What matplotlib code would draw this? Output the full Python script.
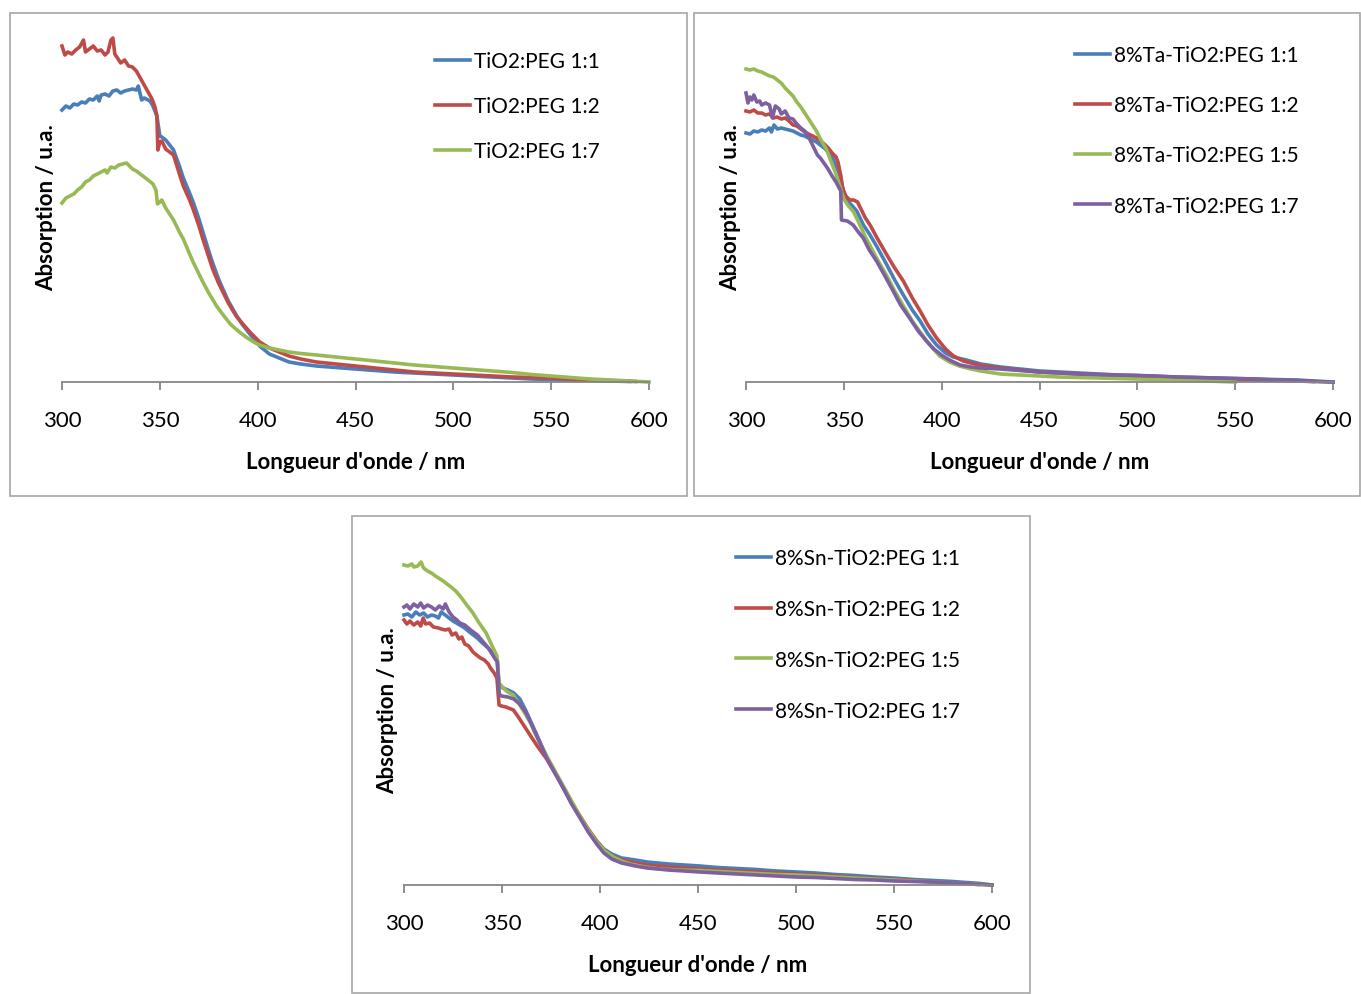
import matplotlib
matplotlib.use("Agg")
import matplotlib.pyplot as plt
from matplotlib.patches import Rectangle

plt.rcParams["font.family"] = ["Lato", "DejaVu Sans"]

blue = "#4A7EBB"
red = "#BE4B48"
green = "#98B954"
purple = "#7D60A0"

ticks = [300, 350, 400, 450, 500, 550, 600]

# ---- panel 1 : TiO2:PEG ----
p1_labels = ["TiO2:PEG 1:1", "TiO2:PEG 1:2", "TiO2:PEG 1:7"]

p1_blue_x = [300, 302, 304, 306, 308, 310, 312, 314, 316, 318, 319, 320, 322, 324, 326, 328, 330, 332, 334, 336,
             338, 339, 340.7, 342, 345, 346.5, 348.5, 350, 351, 353, 355, 357, 360, 362, 365, 367, 370, 372, 375,
             377, 380, 382, 385, 389, 392, 396, 401, 406, 411, 416, 422, 430, 440, 450, 460, 470, 480, 490, 500,
             510, 520, 530, 540, 550, 560, 570, 580, 590]
p1_blue_y = [2.72, 2.76, 2.74, 2.78, 2.77, 2.80, 2.79, 2.83, 2.82, 2.86, 2.81, 2.87, 2.88, 2.86, 2.91, 2.92, 2.89,
             2.91, 2.92, 2.93, 2.92, 2.96, 2.82, 2.84, 2.81, 2.76, 2.66, 2.46, 2.45, 2.42, 2.37, 2.32, 2.16, 2.04,
             1.90, 1.80, 1.63, 1.50, 1.31, 1.19, 1.03, 0.94, 0.81, 0.67, 0.58, 0.48, 0.36, 0.28, 0.24, 0.20, 0.18,
             0.16, 0.145, 0.13, 0.115, 0.10, 0.09, 0.08, 0.07, 0.06, 0.05, 0.04, 0.03, 0.025, 0.02, 0.015, 0.01, 0.005]

p1_red_x = [300, 301.5, 303, 305, 307, 309, 311, 312, 314, 316, 318, 320, 322, 323.5, 325, 326, 327, 328, 330, 332,
            334, 336, 338, 340, 342, 344, 346, 347.5, 348.5, 349, 350, 351, 353, 355, 357, 360, 362, 365, 367, 370,
            372, 375, 377, 380, 382, 385, 389, 392, 396, 401, 406, 411, 416, 422, 430, 440, 450, 460, 470, 480,
            490, 500, 510, 520, 530, 540, 550, 560, 570, 580, 593]
p1_red_y = [3.36, 3.27, 3.30, 3.28, 3.32, 3.35, 3.42, 3.30, 3.33, 3.36, 3.31, 3.32, 3.27, 3.30, 3.42, 3.44, 3.28,
            3.25, 3.19, 3.22, 3.16, 3.15, 3.11, 3.04, 2.97, 2.90, 2.83, 2.75, 2.66, 2.32, 2.40, 2.41, 2.33, 2.30,
            2.27, 2.08, 1.96, 1.83, 1.73, 1.56, 1.43, 1.25, 1.13, 0.99, 0.91, 0.79, 0.66, 0.59, 0.50, 0.40, 0.34,
            0.30, 0.26, 0.23, 0.20, 0.18, 0.16, 0.14, 0.12, 0.10, 0.09, 0.08, 0.07, 0.06, 0.05, 0.045, 0.04, 0.03,
            0.02, 0.015, 0.005]

p1_green_x = [300, 302, 304, 306, 308, 310, 312, 314, 316, 318, 320, 322, 323, 325, 327, 329, 331, 333, 334.5, 336,
              338, 340, 342, 344, 346.5, 348, 348.8, 350, 351, 353, 355, 357, 360, 362, 365, 367, 370, 372, 375,
              379, 382, 386, 390, 394, 398, 401, 406, 411, 416, 422, 430, 440, 450, 460, 470, 480, 490, 500, 510,
              520, 530, 540, 550, 560, 570, 580, 590, 600]
p1_green_y = [1.79, 1.84, 1.86, 1.88, 1.92, 1.95, 2.00, 2.02, 2.06, 2.08, 2.10, 2.12, 2.09, 2.15, 2.14, 2.17, 2.18,
              2.19, 2.16, 2.13, 2.11, 2.08, 2.05, 2.02, 1.98, 1.92, 1.78, 1.80, 1.82, 1.74, 1.68, 1.62, 1.50, 1.43,
              1.29, 1.20, 1.08, 1.00, 0.89, 0.76, 0.68, 0.58, 0.51, 0.45, 0.40, 0.37, 0.34, 0.32, 0.30, 0.285, 0.27,
              0.25, 0.23, 0.21, 0.19, 0.17, 0.155, 0.14, 0.125, 0.11, 0.095, 0.075, 0.06, 0.045, 0.03, 0.02, 0.01, 0.0]

# ---- panel 2 : 8%Ta-TiO2:PEG ----
p2_labels = ["8%Ta-TiO2:PEG 1:1", "8%Ta-TiO2:PEG 1:2", "8%Ta-TiO2:PEG 1:5", "8%Ta-TiO2:PEG 1:7"]

p2_blue_x = [300, 302, 304, 306, 308, 310, 312, 313, 314.3, 316, 318, 320, 322, 324, 326, 328, 330, 332, 334, 336,
             338, 340, 342, 344, 346, 348.4, 350.5, 353, 356.6, 360, 363.4, 367, 372, 376, 380.4, 385, 389, 393,
             397.4, 402, 406, 412.6, 420, 430, 440, 450, 460, 470, 480, 490, 500, 510, 520, 530, 540, 550, 560, 570,
             582, 590, 600]
p2_blue_y = [2.49, 2.48, 2.51, 2.50, 2.52, 2.51, 2.54, 2.50, 2.57, 2.53, 2.54, 2.53, 2.52, 2.51, 2.49, 2.47, 2.46,
             2.44, 2.42, 2.40, 2.37, 2.34, 2.30, 2.25, 2.16, 2.04, 1.85, 1.79, 1.71, 1.57, 1.47, 1.35, 1.17, 1.02,
             0.87, 0.72, 0.61, 0.48, 0.37, 0.29, 0.25, 0.22, 0.18, 0.15, 0.13, 0.11, 0.10, 0.09, 0.08, 0.07, 0.065,
             0.055, 0.05, 0.045, 0.04, 0.035, 0.03, 0.025, 0.02, 0.01, 0.0]

p2_red_x = [300, 302, 304, 306, 308, 310, 312, 314, 316, 318, 320, 322, 324, 326, 328, 330, 332, 334, 336, 338, 340,
            342, 344, 346, 347, 348.5, 349.3, 351, 353, 355, 357, 359, 361, 363.4, 367, 372, 376, 380.4, 385, 389,
            393, 397.4, 402, 406, 411, 417, 422, 430, 440, 450, 460, 470, 480, 490, 500, 510, 520, 530, 540, 550,
            560, 570, 580, 590]
p2_red_y = [2.71, 2.70, 2.72, 2.69, 2.69, 2.67, 2.68, 2.64, 2.65, 2.63, 2.64, 2.61, 2.57, 2.56, 2.53, 2.50, 2.48,
            2.46, 2.44, 2.41, 2.38, 2.34, 2.29, 2.25, 2.20, 2.06, 1.94, 1.86, 1.82, 1.82, 1.80, 1.72, 1.64, 1.57,
            1.44, 1.27, 1.14, 1.01, 0.84, 0.71, 0.57, 0.44, 0.33, 0.26, 0.21, 0.18, 0.16, 0.14, 0.12, 0.10, 0.09,
            0.08, 0.07, 0.06, 0.055, 0.045, 0.04, 0.035, 0.03, 0.025, 0.02, 0.015, 0.01, 0.005]

p2_green_x = [300, 302, 304, 306, 308, 310, 312, 314, 316, 318, 320, 322, 324, 326, 328, 330, 333, 336, 338, 341,
              343, 346, 348.4, 350, 352, 355, 358, 361, 363.5, 367, 372, 376, 380.4, 385, 389, 394, 399, 404, 409,
              415, 420, 430, 440, 450, 460, 470, 480, 490, 500, 510, 520, 535, 550]
p2_green_y = [3.13, 3.12, 3.13, 3.11, 3.10, 3.08, 3.06, 3.05, 3.02, 2.99, 2.94, 2.90, 2.86, 2.80, 2.75, 2.69, 2.60,
              2.51, 2.43, 2.33, 2.23, 2.08, 1.93, 1.83, 1.77, 1.70, 1.58, 1.45, 1.36, 1.23, 1.06, 0.91, 0.76, 0.61,
              0.50, 0.37, 0.26, 0.20, 0.16, 0.13, 0.11, 0.08, 0.07, 0.06, 0.05, 0.045, 0.04, 0.035, 0.03, 0.025,
              0.02, 0.01, 0.0]

p2_purple_x = [300, 301, 302, 303, 304, 305.5, 307, 308, 310, 312, 313.5, 315, 317, 318, 320, 322, 324, 326, 328,
               330, 332, 334, 336.5, 338, 341.6, 344, 346, 348.4, 348.8, 351.8, 354.8, 357, 359.9, 363, 366.7, 371,
               375.2, 379, 383.6, 388, 392.2, 396, 400.6, 405, 409.4, 415, 420, 430, 440, 450, 460, 470, 480, 490,
               500, 510, 520, 530, 540, 550, 560, 570, 580, 590, 600]
p2_purple_y = [2.89, 2.79, 2.85, 2.82, 2.87, 2.80, 2.81, 2.77, 2.79, 2.77, 2.64, 2.76, 2.73, 2.68, 2.71, 2.64, 2.63,
               2.58, 2.54, 2.51, 2.45, 2.37, 2.27, 2.24, 2.14, 2.06, 2.00, 1.91, 1.62, 1.61, 1.57, 1.51, 1.44, 1.32,
               1.21, 1.06, 0.91, 0.77, 0.64, 0.51, 0.41, 0.33, 0.26, 0.21, 0.17, 0.15, 0.14, 0.13, 0.115, 0.10,
               0.09, 0.08, 0.075, 0.07, 0.065, 0.06, 0.05, 0.045, 0.04, 0.035, 0.03, 0.02, 0.015, 0.005, 0.0]

# ---- panel 3 : 8%Sn-TiO2:PEG ----
p3_labels = ["8%Sn-TiO2:PEG 1:1", "8%Sn-TiO2:PEG 1:2", "8%Sn-TiO2:PEG 1:5", "8%Sn-TiO2:PEG 1:7"]

p3_blue_x = [300, 302, 304, 306, 308, 310, 312, 314, 316, 317.6, 319, 321, 323, 325, 328.5, 331, 334, 337.4, 340,
             343, 346.2, 347.6, 348.5, 350.6, 353, 356, 359.1, 362, 365, 368, 372.8, 377, 381.3, 385.5, 389.8, 394,
             398.3, 402, 406, 411, 418, 424, 435, 451, 460, 470, 480, 490, 500.3, 510, 520, 530, 540, 549.6, 560,
             570, 580, 594, 600]
p3_blue_y = [2.70, 2.71, 2.68, 2.73, 2.70, 2.72, 2.68, 2.70, 2.69, 2.67, 2.73, 2.70, 2.67, 2.64, 2.60, 2.57, 2.52,
             2.47, 2.42, 2.37, 2.30, 2.25, 1.99, 1.97, 1.95, 1.92, 1.86, 1.75, 1.62, 1.49, 1.28, 1.13, 0.97, 0.82,
             0.68, 0.55, 0.44, 0.36, 0.31, 0.27, 0.25, 0.23, 0.21, 0.19, 0.175, 0.165, 0.155, 0.14, 0.13, 0.12,
             0.105, 0.095, 0.08, 0.07, 0.055, 0.045, 0.035, 0.015, 0.0]

p3_red_x = [300, 301.5, 303, 305, 307, 308.5, 309.8, 311, 313, 315, 317.6, 319, 321, 323, 324.5, 326.4, 328, 329.5,
            331, 333, 335.2, 337, 339, 341, 343, 344.1, 346, 347.4, 348.5, 349.7, 352, 355.8, 358, 361, 364.3, 368,
            372.8, 377, 381.3, 385.5, 389.8, 394, 398.3, 402, 406, 411, 418, 424, 435, 451, 460, 470, 480, 490,
            500, 510, 520, 530, 540, 550, 560, 570, 580, 593]
p3_red_y = [2.65, 2.61, 2.64, 2.60, 2.63, 2.59, 2.67, 2.61, 2.62, 2.58, 2.57, 2.56, 2.55, 2.56, 2.50, 2.52, 2.46,
            2.48, 2.41, 2.39, 2.33, 2.30, 2.27, 2.25, 2.21, 2.17, 2.12, 2.07, 1.80, 1.79, 1.78, 1.75, 1.69, 1.60,
            1.50, 1.39, 1.26, 1.12, 0.97, 0.82, 0.69, 0.56, 0.44, 0.35, 0.29, 0.25, 0.22, 0.20, 0.18, 0.16, 0.15,
            0.14, 0.13, 0.12, 0.11, 0.10, 0.09, 0.075, 0.065, 0.055, 0.045, 0.03, 0.02, 0.005]

p3_green_x = [300, 302, 304, 305, 307, 308.7, 310, 312, 314, 316, 317.6, 320, 322, 324, 326.4, 329, 332, 335.2, 338,
              341.9, 345, 347.4, 348.5, 350.6, 352.9, 355.8, 358, 361, 364.3, 368, 372.8, 377, 381.3, 385.5, 389.8,
              394, 398.3, 402.5, 406.8, 411, 415.3, 423, 430.6, 440, 451, 460, 470, 480, 490, 500, 510, 520, 530,
              540, 550, 560, 570, 580, 590, 600]
p3_green_y = [3.20, 3.19, 3.21, 3.18, 3.19, 3.23, 3.17, 3.14, 3.12, 3.09, 3.07, 3.04, 3.01, 2.98, 2.94, 2.88, 2.80,
              2.72, 2.63, 2.52, 2.39, 2.29, 2.02, 1.97, 1.93, 1.90, 1.83, 1.74, 1.63, 1.47, 1.29, 1.14, 0.99, 0.84,
              0.69, 0.55, 0.43, 0.34, 0.28, 0.24, 0.21, 0.18, 0.16, 0.15, 0.145, 0.135, 0.125, 0.115, 0.105, 0.10,
              0.09, 0.08, 0.07, 0.06, 0.05, 0.04, 0.03, 0.02, 0.01, 0.0]

p3_purple_x = [300, 301.5, 303, 305, 307, 308.5, 310, 312, 314, 316, 318, 320, 321.1, 323, 325, 327, 328.5, 331, 334,
               337.4, 340, 343, 346.2, 347.6, 348.6, 349.7, 353, 356, 359.1, 362, 365, 368, 372.8, 377, 381.3, 385.5,
               389.8, 394, 398.3, 402, 406, 411, 418, 424, 435, 451, 460, 470, 480, 490, 500, 510, 520, 530, 540,
               550, 560, 570, 580, 590, 600]
p3_purple_y = [2.78, 2.80, 2.76, 2.81, 2.78, 2.82, 2.77, 2.80, 2.78, 2.75, 2.79, 2.76, 2.81, 2.73, 2.68, 2.65, 2.62,
               2.60, 2.55, 2.50, 2.44, 2.37, 2.27, 2.23, 1.91, 1.89, 1.88, 1.86, 1.81, 1.73, 1.61, 1.48, 1.27, 1.12,
               0.97, 0.81, 0.67, 0.53, 0.41, 0.32, 0.26, 0.22, 0.19, 0.17, 0.15, 0.13, 0.12, 0.11, 0.10, 0.09, 0.08,
               0.075, 0.065, 0.055, 0.05, 0.04, 0.035, 0.03, 0.02, 0.01, 0.0]

W, H = 1361, 995
fig = plt.figure(figsize=(W / 100, H / 100), dpi=100)

# gray frames around each chart
for x0, y0, x1, y1 in [(10, 14, 687, 497), (694, 14, 1360, 497), (352, 517, 1030, 994)]:
    fig.patches.append(Rectangle((x0 / W, 1 - y1 / H), (x1 - x0) / W, (y1 - y0) / H, transform=fig.transFigure,
                                 fill=False, edgecolor="#a6a6a6", linewidth=1.2))


def make_panel(left, right, base, series, labels, leg_xy, leg_space, ylab_x, xlab_y):
    ax = fig.add_axes([left / W, 1 - base / H, (right - left) / W, 350 / H])
    for (xs, ys, c) in series:
        ax.plot(xs, ys, color=c, linewidth=2.6, clip_on=False, solid_joinstyle="round")
    ax.set_xlim(300, 600)
    ax.set_ylim(0, 3.5)
    ax.set_xticks(ticks)
    ax.set_yticks([])
    for s in ["left", "top", "right"]:
        ax.spines[s].set_visible(False)
    ax.spines["bottom"].set_color("#868686")
    ax.spines["bottom"].set_linewidth(1.3)
    ax.tick_params(axis="x", direction="out", length=6, width=1.3, color="#868686", labelsize=16, pad=14)
    ax.set_xlabel("Longueur d'onde / nm", fontsize=16, fontweight="bold")
    ax.xaxis.set_label_coords(0.5, 1 - (xlab_y - (base - 350)) / 350)
    ax.set_ylabel("Absorption / u.a.", fontsize=16, fontweight="bold")
    ax.yaxis.set_label_coords((ylab_x - left) / (right - left), 0.5)
    ax.legend(ax.get_lines(), labels, loc="upper left",
              bbox_to_anchor=(leg_xy[0] / W, 1 - leg_xy[1] / H), bbox_transform=fig.transFigure,
              frameon=False, fontsize=15, handlelength=1.7, handletextpad=0.15,
              labelspacing=leg_space, borderpad=0, borderaxespad=0)
    return ax


make_panel(62, 649, 383,
           [(p1_blue_x, p1_blue_y, blue), (p1_red_x, p1_red_y, red), (p1_green_x, p1_green_y, green)],
           p1_labels, (435, 52), 1.2, 57, 452)
make_panel(746, 1333, 383,
           [(p2_blue_x, p2_blue_y, blue), (p2_red_x, p2_red_y, red), (p2_green_x, p2_green_y, green),
            (p2_purple_x, p2_purple_y, purple)],
           p2_labels, (1075, 46), 1.45, 741, 452)
make_panel(404, 992, 886,
           [(p3_blue_x, p3_blue_y, blue), (p3_red_x, p3_red_y, red), (p3_green_x, p3_green_y, green),
            (p3_purple_x, p3_purple_y, purple)],
           p3_labels, (736, 549), 1.48, 398, 955)

fig.savefig("out.png", dpi=100)
